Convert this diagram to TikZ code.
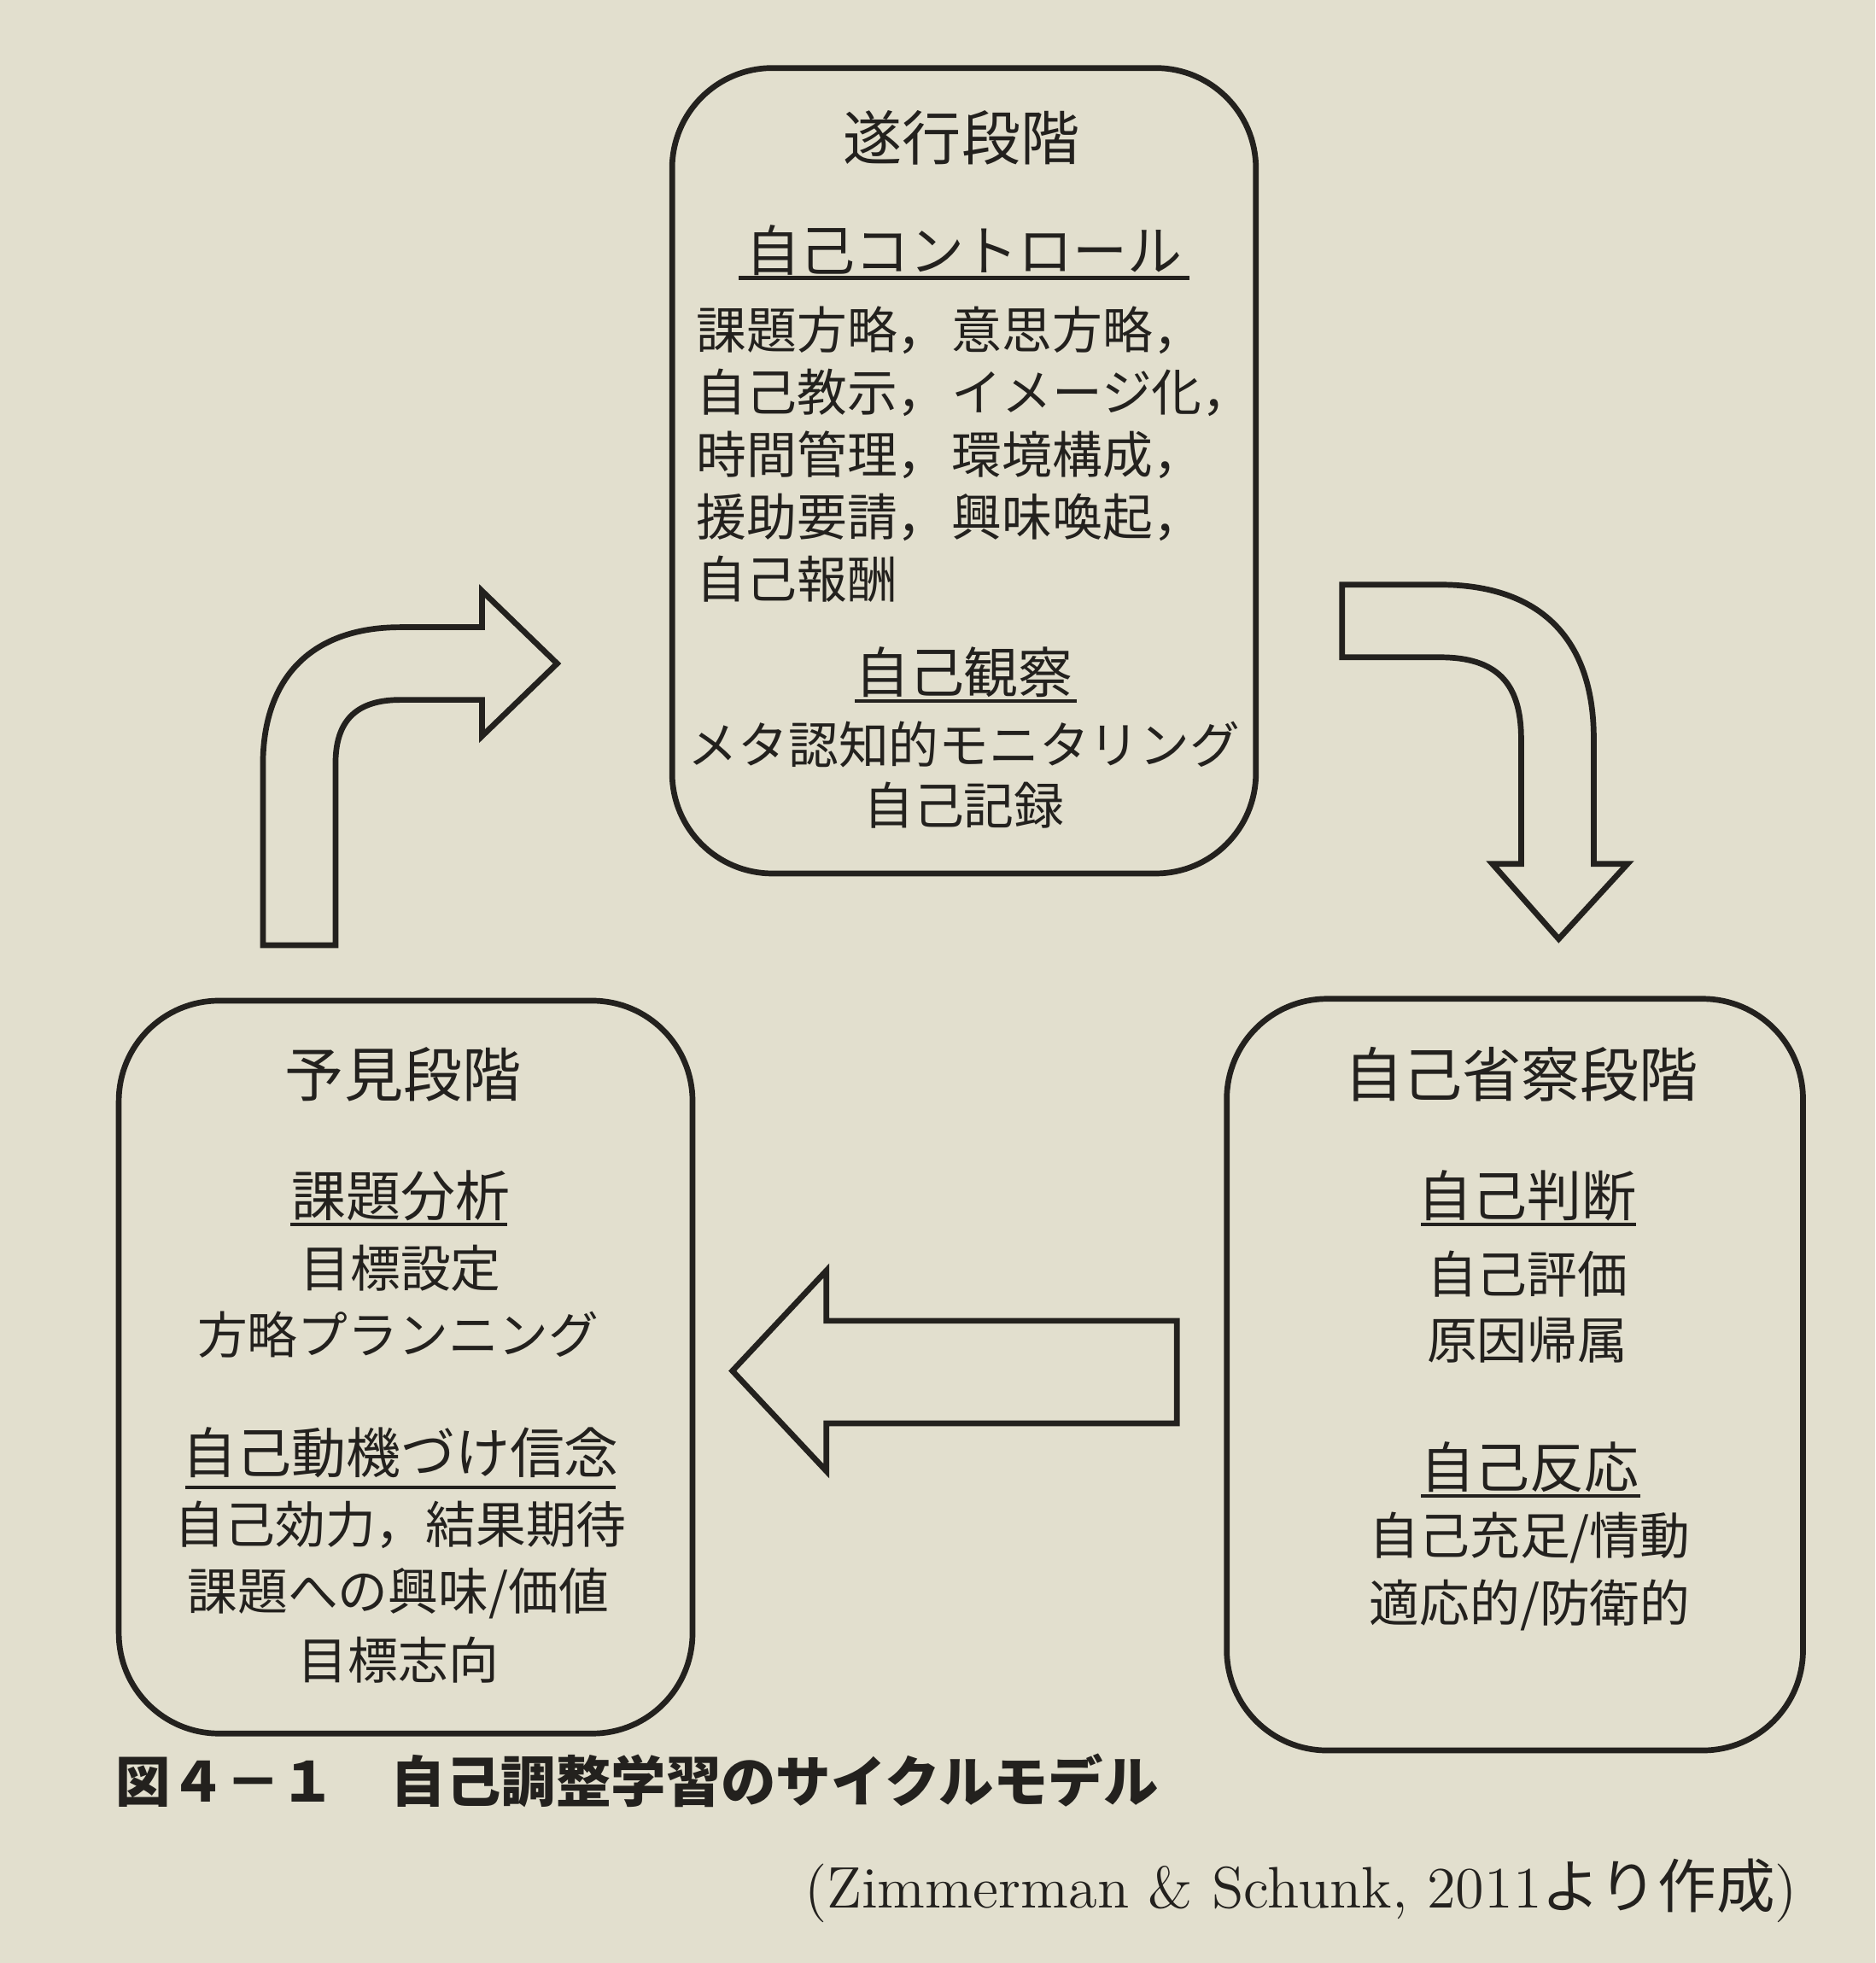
\documentclass[tikz,border=0pt]{standalone}
\usepackage{fontspec}
\setmainfont{Noto Sans CJK JP}
\newfontfamily\lmr{Latin Modern Roman}
\usetikzlibrary{positioning}
\definecolor{paper}{RGB}{226,223,206}
\definecolor{ink}{RGB}{35,33,30}
\tikzset{
  phase/.style={draw=ink, line width=1.3pt, rounded corners=0.8cm, inner sep=0pt},
  ttl/.style={font=\fontsize{13.4}{16}\selectfont, text=ink},
  head/.style={font=\fontsize{12.4}{15}\selectfont, text=ink},
  item/.style={font=\fontsize{11.4}{14.2}\selectfont, text=ink, align=center},
  col/.style={font=\fontsize{11.4}{14.2}\selectfont, text=ink, align=left, anchor=north west},
  uline/.style={draw=ink, line width=0.8pt},
  bigarrow/.style={draw=ink, line width=1.3pt, fill=paper, line join=miter}
}
\begin{document}
\begin{tikzpicture}[x=0.01cm, y=-0.01cm]
  \fill[paper] (0,0) rectangle (1498,1568);
  \useasboundingbox (0,0) rectangle (1498,1568);

  % phase boxes
  \node[phase, minimum width=4.66cm, minimum height=6.43cm] (exec) at (770,376) {};
  \node[phase, minimum width=4.58cm, minimum height=5.85cm] (fore) at (324,1092) {};
  \node[phase, minimum width=4.60cm, minimum height=6.00cm] (refl) at (1210,1098) {};

  % execution phase
  \node[ttl] (execT) at (768,110) {遂行段階};
  \node[head] (ctrl) at (770,200) {自己コントロール};
  \draw[uline] (590,222) -- (950,222);
  \node[col] (ctrlA) at (544,232) {課題方略，\\自己教示，\\時間管理，\\援助要請，\\自己報酬};
  \node[col] (ctrlB) at (748,232) {意思方略，\\イメージ化，\\環境構成，\\興味喚起，};
  \node[head] (obs) at (770,537) {自己観察};
  \draw[uline] (683,560) -- (860,560);
  \node[item] (obsA) at (770,595) {メタ認知的モニタリング};
  \node[item] (obsB) at (770,643) {自己記録};

  % forethought phase
  \node[ttl] (foreT) at (322,858) {予見段階};
  \node[head] (task) at (320,955) {課題分析};
  \draw[uline] (232,978) -- (405,978);
  \node[item] (taskA) at (320,1013) {目標設定};
  \node[item] (taskB) at (318,1066) {方略プランニング};
  \node[head] (motiv) at (320,1160) {自己動機づけ信念};
  \draw[uline] (148,1188) -- (492,1188);
  \node[item] (motivA) at (320,1218) {自己効力，結果期待};
  \node[item] (motivB) at (318,1273) {課題への興味/価値};
  \node[item] (motivC) at (318,1326) {目標志向};

  % self-reflection phase
  \node[ttl] (reflT) at (1215,858) {自己省察段階};
  \node[head] (judge) at (1220,955) {自己判断};
  \draw[uline] (1135,978) -- (1307,978);
  \node[item] (judgeA) at (1220,1018) {自己評価};
  \node[item] (judgeB) at (1220,1070) {原因帰属};
  \node[head] (react) at (1222,1172) {自己反応};
  \draw[uline] (1135,1195) -- (1310,1195);
  \node[item] (reactA) at (1222,1228) {自己充足/情動};
  \node[item] (reactB) at (1222,1282) {適応的/防衛的};

  % cycle arrows
  \draw[bigarrow] (210,755) -- (210,611) .. controls (210,540) and (250,501) .. (320,501)
    -- (385,501) -- (385,472) -- (445,530) -- (385,588) -- (385,559) -- (320,559)
    .. controls (285,559) and (268,575) .. (268,610) -- (268,755) -- cycle;
  \draw[bigarrow] (1072,467) -- (1150,467) .. controls (1230,467) and (1273,510) .. (1273,590)
    -- (1273,690) -- (1300,690) -- (1245,750) -- (1192,690) -- (1215,690) -- (1215,590)
    .. controls (1215,545) and (1195,525) .. (1150,525) -- (1072,525) -- cycle;
  \draw[bigarrow] (940,1055) -- (660,1055) -- (660,1015) -- (585,1095) -- (660,1175)
    -- (660,1137) -- (940,1137) -- cycle;

  % caption
  \node[anchor=west, text=ink, font=\bfseries\fontsize{12.5}{15}\selectfont] (cap) at (80,1422)
    {図４－１　自己調整学習のサイクルモデル};
  \node[anchor=east, text=ink, font=\fontsize{13.3}{16}\selectfont] (src) at (1448,1510)
    {{\lmr (Zimmerman \& Schunk, 2011}より作成{\lmr )}};
\end{tikzpicture}
\end{document}
